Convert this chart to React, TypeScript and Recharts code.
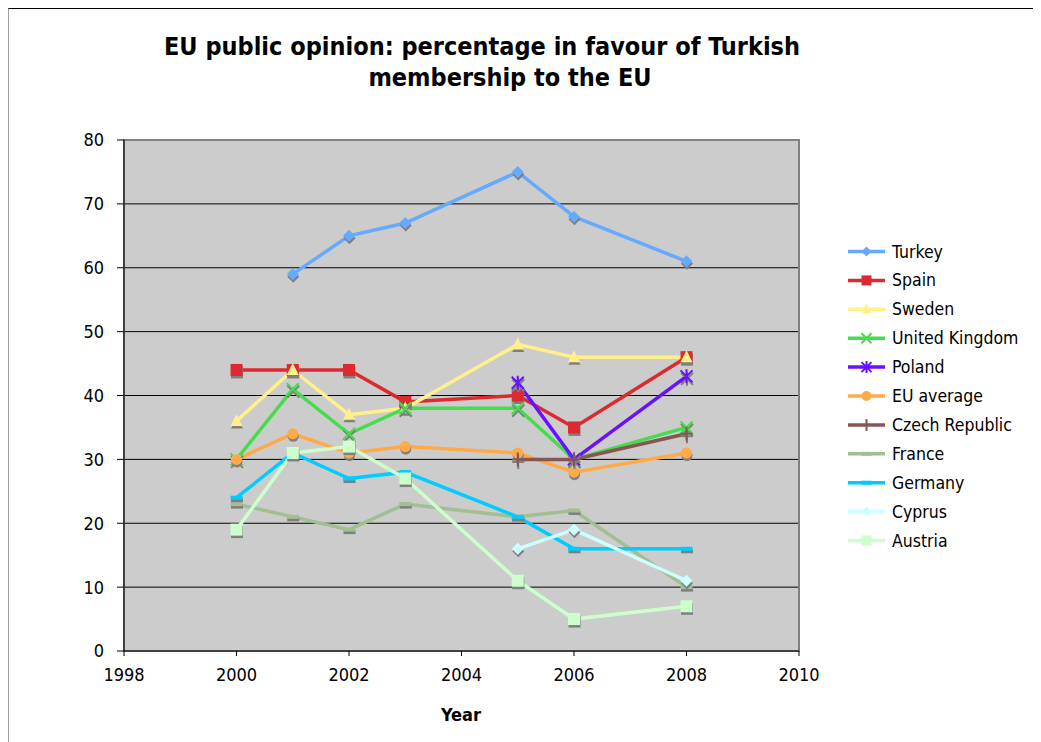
import { LineChart, Line, XAxis, YAxis, CartesianGrid, ReferenceArea } from 'recharts'

const years = [2000, 2001, 2002, 2003, 2005, 2006, 2008]
const turkey = [null, 59, 65, 67, 75, 68, 61]
const spain = [44, 44, 44, 39, 40, 35, 46]
const sweden = [36, 44, 37, 38, 48, 46, 46]
const unitedKingdom = [30, 41, 34, 38, 38, 30, 35]
const poland = [null, null, null, null, 42, 30, 43]
const euAverage = [30, 34, 31, 32, 31, 28, 31]
const czechRepublic = [null, null, null, null, 30, 30, 34]
const france = [23, 21, 19, 23, 21, 22, 10]
const germany = [24, 31, 27, 28, 21, 16, 16]
const cyprus = [null, null, null, null, 16, 19, 11]
const austria = [19, 31, 32, 27, 11, 5, 7]

const xTicks = [1998, 2000, 2002, 2004, 2006, 2008, 2010]
const yTicks = [0, 10, 20, 30, 40, 50, 60, 70, 80]

const FONT = '"DejaVu Sans Condensed", "DejaVu Sans", sans-serif'
const SHADOW = '#7f7f7f'

type Shape = 'diamond' | 'square' | 'triangle' | 'x' | 'star' | 'circle' | 'plus' | 'dash'

const series: { key: string; name: string; color: string; shape: Shape; values: (number | null)[] }[] = [
  { key: 'turkey', name: 'Turkey', color: '#66aaff', shape: 'diamond', values: turkey },
  { key: 'spain', name: 'Spain', color: '#dd2a30', shape: 'square', values: spain },
  { key: 'sweden', name: 'Sweden', color: '#fff08a', shape: 'triangle', values: sweden },
  { key: 'uk', name: 'United Kingdom', color: '#44dd4c', shape: 'x', values: unitedKingdom },
  { key: 'poland', name: 'Poland', color: '#6611ff', shape: 'star', values: poland },
  { key: 'eu', name: 'EU average', color: '#ffaa48', shape: 'circle', values: euAverage },
  { key: 'czech', name: 'Czech Republic', color: '#885555', shape: 'plus', values: czechRepublic },
  { key: 'france', name: 'France', color: '#a2bf92', shape: 'dash', values: france },
  { key: 'germany', name: 'Germany', color: '#00ccff', shape: 'dash', values: germany },
  { key: 'cyprus', name: 'Cyprus', color: '#ccffff', shape: 'diamond', values: cyprus },
  { key: 'austria', name: 'Austria', color: '#ccffcc', shape: 'square', values: austria },
]

const data = years.map((year, i) => {
  const row: Record<string, number | null> = { year }
  series.forEach((s) => (row[s.key] = s.values[i]))
  return row
})

function marker(shape: Shape, color: string, cx: number, cy: number, s: number) {
  switch (shape) {
    case 'diamond':
      return <polygon points={`${cx},${cy - s} ${cx + s},${cy} ${cx},${cy + s} ${cx - s},${cy}`} fill={color} />
    case 'square':
      return <rect x={cx - s} y={cy - s} width={2 * s} height={2 * s} fill={color} />
    case 'triangle':
      return <polygon points={`${cx},${cy - s - 1} ${cx + s},${cy + s - 1} ${cx - s},${cy + s - 1}`} fill={color} />
    case 'x':
      return (
        <path d={`M${cx - s},${cy - s}L${cx + s},${cy + s}M${cx - s},${cy + s}L${cx + s},${cy - s}`} stroke={color} strokeWidth={2} />
      )
    case 'star':
      return (
        <path
          d={`M${cx - s},${cy - s}L${cx + s},${cy + s}M${cx - s},${cy + s}L${cx + s},${cy - s}M${cx},${cy - s - 1}L${cx},${cy + s + 1}`}
          stroke={color}
          strokeWidth={2}
        />
      )
    case 'circle':
      return <circle cx={cx} cy={cy} r={s} fill={color} />
    case 'plus':
      return <path d={`M${cx},${cy - s - 1}L${cx},${cy + s + 1}M${cx - s},${cy}L${cx + s},${cy}`} stroke={color} strokeWidth={2} />
    case 'dash':
      return <rect x={cx - s} y={cy - 2} width={2 * s} height={4} fill={color} />
  }
}

function makeDot(shape: Shape, color: string) {
  return (props: any) => {
    const { cx, cy, index } = props
    if (cx == null || cy == null || props.value == null) return <g key={index} />
    const s = shape === 'circle' ? 5.5 : 6
    return (
      <g key={index}>
        {marker(shape, SHADOW, cx + 0.5, cy + 2.5, s)}
        {marker(shape, color, cx, cy, s)}
      </g>
    )
  }
}

export default function App() {
  return (
    <div
      style={{
        position: 'relative',
        width: 1033,
        height: 734,
        borderTop: '1px solid #000',
        borderLeft: '1px solid #a0a0a0',
        background: '#fff',
      }}
    >
      <LineChart width={1032} height={733} data={data} margin={{ top: 131, right: 242, bottom: 61, left: 55 }}>
        <CartesianGrid horizontal vertical={false} stroke="#000" fill="#cccccc" />
        <ReferenceArea x1={1998} x2={2010} y1={0} y2={80} fill="none" stroke="#808080" strokeWidth={2} />
        <XAxis
          dataKey="year"
          type="number"
          domain={[1998, 2010]}
          ticks={xTicks}
          height={30}
          tickSize={5}
          tickMargin={12}
          axisLine={{ stroke: '#000' }}
          tickLine={{ stroke: '#000' }}
          tick={{ fill: '#000', fontSize: 18, fontFamily: FONT }}
        />
        <YAxis
          type="number"
          domain={[0, 80]}
          ticks={yTicks}
          width={60}
          tickSize={7}
          tickMargin={13}
          axisLine={{ stroke: '#000' }}
          tickLine={{ stroke: '#000' }}
          tick={{ fill: '#000', fontSize: 18, fontFamily: FONT }}
        />
        {series.map((s) => (
          <Line
            key={s.key}
            dataKey={s.key}
            name={s.name}
            stroke={s.color}
            strokeWidth={3.5}
            dot={makeDot(s.shape, s.color)}
            activeDot={false}
            isAnimationActive={false}
          />
        ))}
      </LineChart>
      <svg width={1032} height={733} style={{ position: 'absolute', left: 0, top: 0, pointerEvents: 'none' }}>
        <g fontFamily={FONT} fontWeight="bold" fill="#000" fontSize={25} textAnchor="middle">
          <text x={473} y={46}>EU public opinion: percentage in favour of Turkish</text>
          <text x={501} y={77}>membership to the EU</text>
          <text x={452} y={712} fontSize={18}>Year</text>
        </g>
        {series.map((s, i) => {
          const y = 242.5 + i * 28.9
          return (
            <g key={s.key}>
              <line x1={839} x2={876} y1={y} y2={y} stroke={s.color} strokeWidth={3.5} />
              {marker(s.shape, s.color, 857.5, y, 5)}
              <text x={883} y={y + 6} fontFamily={FONT} fontSize={17.5} fill="#000">
                {s.name}
              </text>
            </g>
          )
        })}
      </svg>
    </div>
  )
}
